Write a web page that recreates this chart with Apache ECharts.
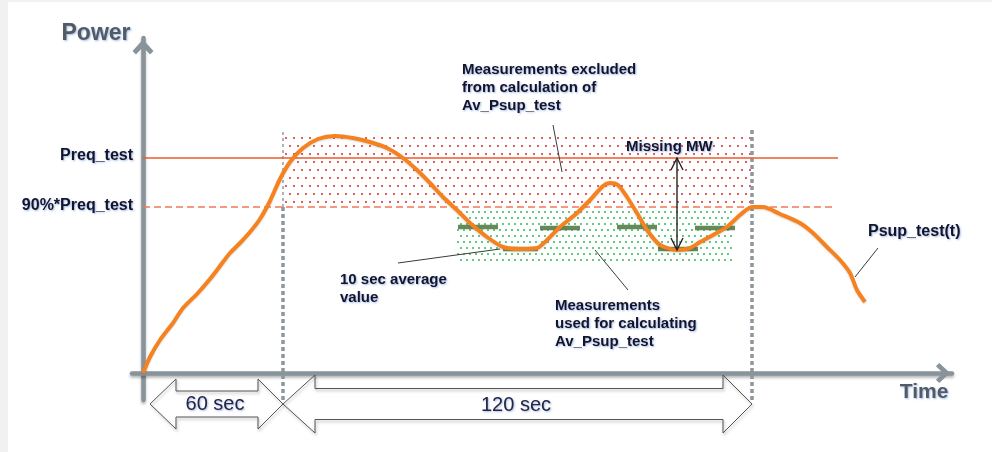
<!DOCTYPE html>
<html><head><meta charset="utf-8">
<script src="https://cdn.jsdelivr.net/npm/echarts@6/dist/echarts.min.js"></script>
<style>
html,body{margin:0;padding:0;background:#f1f1f1;}
#bg{position:absolute;left:8px;top:2px;width:984px;height:450px;background:#fff;}
#chart{position:absolute;left:0;top:0;width:992px;height:452px;}
</style></head><body>
<div id="bg"></div><div id="chart"></div>
<script>
// ---------------- data (time units, power units) ----------------
const psupCurve = [[0,0],[7,16],[17,33],[30,50],[40,65],[54,79],[67,94],[77,107],[87,120],[97,130],[107,141],[117,154],[127,172],[137,194],[147,211],[160,225],[175,234],[192,237],[210,235],[227,231],[244,225],[260,215],[274,203],[287,190],[300,176],[314,163],[327,150],[344,136],[360,126],[377,124],[394,125],[404,133],[417,146],[434,160],[447,173],[460,187],[467,190],[475,188],[484,176],[494,160],[504,143],[517,128],[534,123],[547,125],[557,131],[570,138],[584,146],[597,158],[609,166],[620,166],[637,159],[657,150],[670,140],[684,126],[697,113],[707,100],[714,83],[722,71]];
const preqLevel = 215;
const preqSpan = [0, 695];
const p90Level = 166;
const p90Span = [0, 690];
const testWindowX = [140, 609];
const windowYRange = [-27, 243];
const excludedZone = [140, 609, 166, 240];   // x0, x1, y0, y1
const usedZone = [314, 589, 108, 166];
const avgBars = [[315,355,146],[360,395,124],[397,437,145],[474,514,146],[515,555,124],[552,592,145]]; // x0, x1, value
const missingMW = [534, 215, 123];   // x, top, bottom
const pointerLines = [[410,248,419,201],[452,123,485,83],[255,110,357,124],[735,125,712,96]];
const span60 = [7, 33, 115, 140, -31, 25, 13];      // tipL, baseL, baseR, tipR, mid, headHalf, shaftHalf
const span120 = [140, 172, 580, 609, -31, 29, 15.5];
const labelTexts = ['Power','Time','Preq_test','90%*Preq_test','Measurements excluded\nfrom calculation of\nAv_Psup_test','Missing MW','10 sec average\nvalue','Measurements\nused for calculating\nAv_Psup_test','Psup_test(t)','60 sec','120 sec'];
const labelAnchors = [[-47,339],[781,-19],[-10,217],[-10,167],[319,285],[483,226],[197,84],[412,49],[725,141],[72,-31],[373,-32]];

// ---------------- styles / build ----------------
function dotPattern(size, pts, color, r) {
  const c = document.createElement('canvas');
  c.width = size; c.height = size;
  const g = c.getContext('2d');
  g.fillStyle = color;
  pts.forEach(p => { g.beginPath(); g.arc(p[0], p[1], r, 0, Math.PI * 2); g.fill(); });
  return { image: c, repeat: 'repeat' };
}
const redDots = dotPattern(16, [[2,2],[10,2],[6,10],[14,10]], '#dc2626', 1.0);
const greenDots = dotPattern(12, [[2,2],[8,2],[5,8],[11,8]], '#1fb84e', 0.95);

const shadowTxt = { textShadowColor: 'rgba(70,120,220,0.5)', textShadowBlur: 2, textShadowOffsetX: 1, textShadowOffsetY: 1 };
const FF = '"Liberation Sans", Arial, sans-serif';
const labelStyles = [
  { font: 'bold 23px ' + FF, fill: '#535b62', align: 'center' },
  { font: 'bold 21px ' + FF, fill: '#535b62', align: 'center' },
  { font: 'bold 16px ' + FF, fill: '#15152a', align: 'right' },
  { font: 'bold 16px ' + FF, fill: '#15152a', align: 'right' },
  { font: 'bold 15px ' + FF, fill: '#15152a', align: 'left', lineHeight: 18 },
  { font: 'bold 15px ' + FF, fill: '#15152a', align: 'left' },
  { font: 'bold 15px ' + FF, fill: '#15152a', align: 'left', lineHeight: 18 },
  { font: 'bold 15px ' + FF, fill: '#15152a', align: 'left', lineHeight: 18 },
  { font: 'bold 16px ' + FF, fill: '#15152a', align: 'left' },
  { font: '20px ' + FF, fill: '#262640', align: 'center' },
  { font: '20px ' + FF, fill: '#262640', align: 'center' }
];

const chevron = 'path://M12,0 L24,13 L20,17 L12,8.5 L4,17 L0,13 Z';
const axisLineStyle = { color: '#89939a', width: 4.5, shadowColor: 'rgba(0,0,0,0.3)', shadowBlur: 3, shadowOffsetY: 2 };

function zoneSeries(zone, fill) {
  return {
    type: 'custom', silent: true, z: 1, data: [0],
    renderItem: (p, api) => {
      const a = api.coord([zone[0], zone[3]]), b = api.coord([zone[1], zone[2]]);
      return { type: 'rect', shape: { x: a[0], y: a[1], width: b[0] - a[0], height: b[1] - a[1] }, style: { fill: fill } };
    }
  };
}
function blockPts(b) {
  const [tl, bl, br, tr, ym, hh, sh] = b;
  return [[tl,ym],[bl,ym+hh],[bl,ym+sh],[br,ym+sh],[br,ym+hh],[tr,ym],[br,ym-hh],[br,ym-sh],[bl,ym-sh],[bl,ym-hh]];
}

const option = {
  animation: false,
  grid: { left: 132, right: 40, top: 38, bottom: 52 },
  xAxis: { type: 'value', min: -11, max: 809, splitLine: { show: false }, axisTick: { show: false }, axisLabel: { show: false },
    axisLine: { show: true, onZero: true, symbol: ['none', chevron], symbolSize: [20, 19], symbolOffset: [0, -9], lineStyle: axisLineStyle } },
  yAxis: { type: 'value', min: -27, max: 335, splitLine: { show: false }, axisTick: { show: false }, axisLabel: { show: false },
    axisLine: { show: true, onZero: true, symbol: ['none', chevron], symbolSize: [21, 19], symbolOffset: [0, -9], lineStyle: axisLineStyle } },
  series: [
    zoneSeries(excludedZone, redDots),
    zoneSeries(usedZone, greenDots),
    { type: 'custom', silent: true, z: 2, data: testWindowX.map((x, i) => [x, i]),
      renderItem: (p, api) => {
        const x = api.value(0);
        const bot = api.coord([x, windowYRange[0]]), top = api.coord([x, windowYRange[1]]), mid = api.coord([x, p90Level]);
        const thick = { stroke: '#8d979d', lineWidth: 3.5, lineDash: [4, 3] };
        if (p.dataIndex === 0) {
          return { type: 'group', children: [
            { type: 'line', shape: { x1: bot[0], y1: bot[1], x2: mid[0], y2: mid[1] }, style: thick },
            { type: 'line', shape: { x1: mid[0], y1: mid[1], x2: top[0], y2: top[1] }, style: { stroke: '#666', lineWidth: 1, lineDash: [3, 3] } }
          ] };
        }
        return { type: 'line', shape: { x1: bot[0], y1: bot[1], x2: top[0], y2: top[1] }, style: thick };
      } },
    { type: 'line', data: [[preqSpan[0], preqLevel], [preqSpan[1], preqLevel]], showSymbol: false, silent: true, z: 3,
      lineStyle: { color: '#ee5a2c', width: 1.5 } },
    { type: 'line', data: [[p90Span[0], p90Level], [p90Span[1], p90Level]], showSymbol: false, silent: true, z: 3,
      lineStyle: { color: '#f27a58', width: 1.5, type: [7, 4] } },
    { type: 'custom', silent: true, z: 4, data: avgBars,
      renderItem: (p, api) => {
        const a = api.coord([api.value(0), api.value(2)]), b = api.coord([api.value(1), api.value(2)]);
        return { type: 'line', shape: { x1: a[0], y1: a[1], x2: b[0], y2: b[1] }, style: { stroke: '#567b47', lineWidth: 4.5, opacity: 0.9 } };
      } },
    { type: 'line', data: psupCurve, smooth: 0.25, showSymbol: false, silent: true, z: 6,
      lineStyle: { color: '#f5821f', width: 4, shadowColor: 'rgba(0,0,0,0.15)', shadowBlur: 2, shadowOffsetY: 1 } },
    { type: 'custom', silent: true, z: 7, data: pointerLines,
      renderItem: (p, api) => {
        const a = api.coord([api.value(0), api.value(1)]), b = api.coord([api.value(2), api.value(3)]);
        return { type: 'line', shape: { x1: a[0], y1: a[1], x2: b[0], y2: b[1] }, style: { stroke: '#3a3a3a', lineWidth: 1 } };
      } },
    { type: 'custom', silent: true, z: 7, data: [missingMW],
      renderItem: (p, api) => {
        const a = api.coord([api.value(0), api.value(1)]), b = api.coord([api.value(0), api.value(2)]);
        const st = { stroke: '#222', lineWidth: 1.4, fill: null };
        return { type: 'group', children: [
          { type: 'line', shape: { x1: a[0], y1: a[1], x2: b[0], y2: b[1] }, style: st },
          { type: 'polyline', shape: { points: [[a[0]-6, a[1]+12], [a[0], a[1]], [a[0]+6, a[1]+12]] }, style: st },
          { type: 'polyline', shape: { points: [[b[0]-6, b[1]-12], [b[0], b[1]], [b[0]+6, b[1]-12]] }, style: st }
        ] };
      } },
    { type: 'custom', silent: true, z: 7, clip: false, data: [0, 1],
      renderItem: (p, api) => {
        const pts = blockPts([span60, span120][p.dataIndex]).map(q => api.coord(q));
        return { type: 'polygon', shape: { points: pts }, style: { fill: null, stroke: '#555', lineWidth: 1, shadowColor: 'rgba(0,0,0,0.35)', shadowBlur: 3, shadowOffsetX: 1, shadowOffsetY: 2 } };
      } },
    { type: 'custom', silent: true, z: 8, clip: false, data: labelAnchors,
      renderItem: (p, api) => {
        const i = p.dataIndex;
        const pt = api.coord([api.value(0), api.value(1)]);
        return { type: 'text', x: pt[0], y: pt[1],
          style: Object.assign({ text: labelTexts[i], verticalAlign: 'middle' }, shadowTxt, labelStyles[i]) };
      } }
  ]
};
const chart = echarts.init(document.getElementById('chart'), null, { renderer: 'canvas' });
chart.setOption(option);
</script></body></html>
